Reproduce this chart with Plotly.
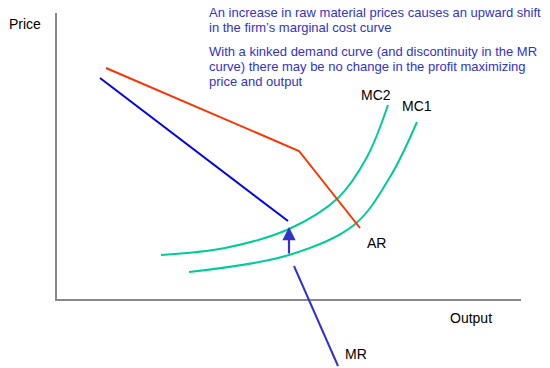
import plotly.graph_objects as go

# Coordinates: Output (x) and Price (y), origin at axis corner
ar_x = [50, 243, 304]
ar_y = [232, 149, 72]

mr_upper_x = [44, 232]
mr_upper_y = [222, 79]
mr_lower_x = [238, 282]
mr_lower_y = [34, -66]

mc2_x = [105, 169, 233, 282, 311, 332]
mc2_y = [45, 52, 71, 102, 143, 195]

mc1_x = [133, 233, 298, 334, 361]
mc1_y = [28, 45, 75, 123, 178]

arrow_from = (233, 45)
arrow_to = (233, 73)

axis_x = [0, 0, 465]
axis_y = [287, 0, 0]

labels = [
    ("Price", -31, 276),
    ("MC2", 320, 205),
    ("MC1", 361, 194),
    ("AR", 320, 57),
    ("MR", 300, -54),
    ("Output", 415, -18),
]

note_lines = [
    ("An increase in raw material prices causes an upward shift", 288),
    ("in the firm\u2019s marginal cost curve", 273),
    ("With a kinked demand curve (and discontinuity in the MR", 249),
    ("curve) there may be no change in the profit maximizing", 234),
    ("price and output", 219),
]
note_x = 151

FONT = "Liberation Sans, Arial, sans-serif"

fig = go.Figure()
fig.add_trace(go.Scatter(x=axis_x, y=axis_y, mode="lines",
                         line=dict(color="#888888", width=2), hoverinfo="skip"))
fig.add_trace(go.Scatter(x=mc2_x, y=mc2_y, mode="lines", line_shape="spline",
                         line=dict(color="#00cc99", width=2)))
fig.add_trace(go.Scatter(x=mc1_x, y=mc1_y, mode="lines", line_shape="spline",
                         line=dict(color="#00cc99", width=2)))
fig.add_trace(go.Scatter(x=ar_x, y=ar_y, mode="lines",
                         line=dict(color="#ff3300", width=2)))
fig.add_trace(go.Scatter(x=mr_upper_x, y=mr_upper_y, mode="lines",
                         line=dict(color="#0000ee", width=2)))
fig.add_trace(go.Scatter(x=mr_lower_x, y=mr_lower_y, mode="lines",
                         line=dict(color="#3333cc", width=2)))

fig.add_annotation(x=arrow_to[0], y=arrow_to[1], ax=arrow_from[0], ay=arrow_from[1],
                   xref="x", yref="y", axref="x", ayref="y", text="",
                   showarrow=True, arrowhead=2, arrowsize=1.2, arrowwidth=2.2,
                   arrowcolor="#3333cc")

for t, x, y in labels:
    fig.add_annotation(x=x, y=y, text=t, showarrow=False, xref="x", yref="y",
                       font=dict(family=FONT, size=14, color="black"))

for t, y in note_lines:
    fig.add_annotation(x=note_x, y=y, text=t, showarrow=False, xref="x", yref="y",
                       xanchor="left", font=dict(family=FONT, size=13, color="#3333cc"))

fig.update_layout(
    width=550, height=368, margin=dict(l=0, r=0, t=0, b=0),
    plot_bgcolor="white", paper_bgcolor="white", showlegend=False,
    hovermode=False,
    xaxis=dict(range=[-56, 494], visible=False, fixedrange=True),
    yaxis=dict(range=[-68, 300], visible=False, fixedrange=True),
)

fig.write_html("out.html", config={"displayModeBar": False, "staticPlot": True},
               post_script="document.body.style.margin='0';document.body.style.overflow='hidden';")
